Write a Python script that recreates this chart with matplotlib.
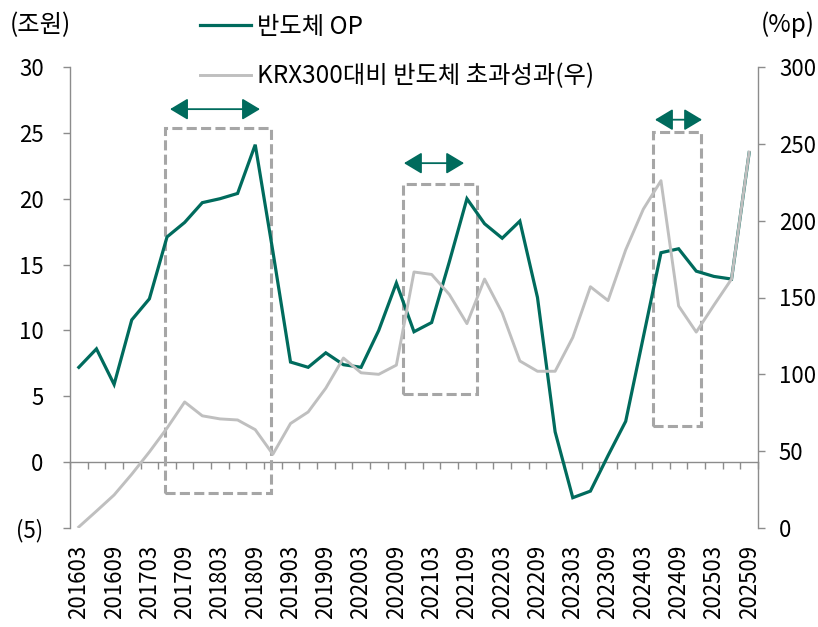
import matplotlib
matplotlib.use("Agg")
import matplotlib.pyplot as plt
from matplotlib.patches import Rectangle
import numpy as np

plt.rcParams['font.family'] = ['Noto Sans CJK KR', 'DejaVu Sans']

# ---------------- data ----------------
quarters = ["201603", "201606", "201609", "201612",
            "201703", "201706", "201709", "201712",
            "201803", "201806", "201809", "201812",
            "201903", "201906", "201909", "201912",
            "202003", "202006", "202009", "202012",
            "202103", "202106", "202109", "202112",
            "202203", "202206", "202209", "202212",
            "202303", "202306", "202309", "202312",
            "202403", "202406", "202409", "202412",
            "202503", "202506", "202509"]

semi_op = [7.2, 8.6, 5.9, 10.8, 12.4, 17.1, 18.2, 19.7, 20.0, 20.4,
           24.1, 16.0, 7.6, 7.2, 8.3, 7.4, 7.2, 10.0, 13.6, 9.9,
           10.6, 15.2, 20.0, 18.1, 17.0, 18.3, 12.5, 2.3, -2.7, -2.2,
           0.5, 3.1, 9.5, 15.9, 16.2, 14.5, 14.1, 13.9, 23.5]

excess_ret = [0.7, 11, 21.5, 35, 49.5, 65, 82, 73, 71, 70.3,
              64, 48, 68, 75.5, 91, 110.6, 101, 100, 106, 166.6,
              165, 152, 133, 162, 140, 108.7, 102, 102, 124, 157,
              148, 181, 207.5, 226, 144.5, 127.5, 145, 162, 244.6]

left_ticks = [-5, 0, 5, 10, 15, 20, 25, 30]
left_tick_labels = ["(5)", "0", "5", "10", "15", "20", "25", "30"]
right_ticks = [0, 50, 100, 150, 200, 250, 300]
right_tick_labels = ["0", "50", "100", "150", "200", "250", "300"]

series_names = ["반도체 OP", "KRX300대비 반도체 초과성과(우)"]

# highlight boxes: (x start, x end) in category units, (y bottom, y top) on left scale
box_x = [(4.89, 10.89), (18.38, 22.57), (32.55, 35.27)]
box_y = [(-2.35, 25.4), (5.16, 21.1), (2.73, 25.06)]
# arrows above boxes: (x start, x end, y)
arrow_spans = [(5.17, 10.27, 26.8), (18.43, 21.84, 22.7), (32.66, 35.33, 26.0)]

GREEN = "#006B5D"
GREY_LINE = "#BFBFBF"
BOX_GREY = "#A6A6A6"
AXIS_GREY = "#8C8C8C"
FS = 16
FS_TXT = 17.5

# ---------------- figure ----------------
fig = plt.figure(figsize=(8.18, 6.27), dpi=100)
ax = fig.add_axes([70/818, 1-528/627, (758-70)/818, (528-67)/627])
ax2 = ax.twinx()

x = np.arange(len(quarters))

l1, = ax.plot(x, semi_op, color=GREEN, lw=2.3, solid_joinstyle='miter', zorder=3)
l2, = ax2.plot(x, excess_ret, color=GREY_LINE, lw=2.1, zorder=3)

ax.set_xlim(-0.5, len(quarters) - 0.5)
ax.set_ylim(-5, 30)
ax2.set_ylim(0, 300)

# boxes
for (x0, x1), (y0, y1) in zip(box_x, box_y):
    ax.add_patch(Rectangle((x0, y0), x1 - x0, y1 - y0, fill=False,
                           edgecolor=BOX_GREY, lw=2.2,
                           linestyle=(0, (3.3, 1.4)), zorder=2))
# arrows
for xa, xb, ya in arrow_spans:
    ax.annotate("", xy=(xb, ya), xytext=(xa, ya),
                arrowprops=dict(arrowstyle="<|-|>,head_length=0.55,head_width=0.33",
                                color=GREEN, lw=1.3, mutation_scale=20,
                                shrinkA=0, shrinkB=0), zorder=4)

# spines
for s in ["top", "right", "bottom"]:
    ax.spines[s].set_visible(False)
for s in ["top", "left", "bottom"]:
    ax2.spines[s].set_visible(False)
ax.spines["left"].set_color(AXIS_GREY)
ax2.spines["right"].set_color(AXIS_GREY)
ax.spines["left"].set_linewidth(1.0)
ax2.spines["right"].set_linewidth(1.0)

ax.set_yticks(left_ticks, left_tick_labels)
ax.tick_params(axis='y', length=5, width=1, color=AXIS_GREY, pad=14, labelsize=FS)
ax2.set_yticks(right_ticks, right_tick_labels)
ax2.tick_params(axis='y', length=5, width=1, color=AXIS_GREY, pad=10, labelsize=FS)

# x labels every other quarter at bottom
ax.set_xticks(x[::2], [quarters[i] for i in x[::2]], rotation=90)
ax.tick_params(axis='x', length=0, pad=12, labelsize=FS)

# zero line with category boundary ticks
sec = ax.secondary_xaxis(5/35)
sec.set_xticks(np.arange(-0.5, len(quarters), 1.0))
sec.tick_params(axis='x', length=5, width=1, color=AXIS_GREY, labelbottom=False, direction='out')
sec.spines["bottom"].set_color(AXIS_GREY)
sec.spines["bottom"].set_linewidth(1.0)

# legend
fig.legend([l1, l2], series_names, loc="upper left",
           bbox_to_anchor=(200/818, 1-14/627), frameon=False, fontsize=FS_TXT,
           handlelength=2.1, handletextpad=0.25, labelspacing=0.95,
           borderpad=0, borderaxespad=0)

fig.text(10/818, 1-25/627, "(조원)", fontsize=FS_TXT, ha="left", va="center")
fig.text(815/818, 1-25/627, "(%p)", fontsize=FS_TXT, ha="right", va="center")

fig.savefig("out.png", dpi=100)
